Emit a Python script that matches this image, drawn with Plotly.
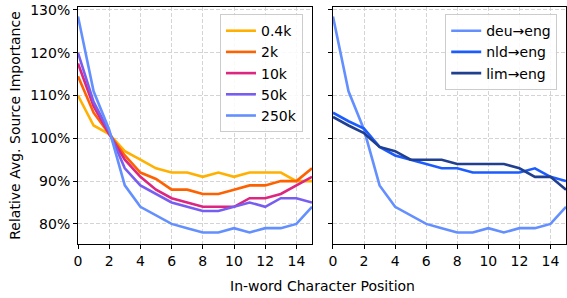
import plotly.graph_objects as go

positions = list(range(16))

vocab_labels = ["0.4k", "2k", "10k", "50k", "250k"]
v_04k = [110, 103, 101, 97, 95, 93, 92, 92, 91, 92, 91, 92, 92, 92, 90, 90]
v_2k = [114.5, 106, 101, 96, 92, 90.5, 88, 88, 87, 87, 88, 89, 89, 90, 90, 93]
v_10k = [117.5, 107.5, 101, 95, 91, 88, 86, 85, 84, 84, 84, 86, 86, 87, 89, 91]
v_50k = [120, 108.5, 101.5, 93, 89, 87, 85, 84, 83, 83, 84, 85, 84, 86, 86, 85]
v_250k = [128.5, 111, 102, 89, 84, 82, 80, 79, 78, 78, 79, 78, 79, 79, 80, 84]

lang_labels = ["deu→eng", "nld→eng", "lim→eng"]
v_deu = v_250k
v_nld = [106, 104, 102.3, 98, 96, 95, 94, 93, 93, 92, 92, 92, 92, 93, 91, 90]
v_lim = [105, 103, 101.2, 98, 97, 95, 95, 95, 94, 94, 94, 94, 93, 91, 91, 88]

y_ticks = [80, 90, 100, 110, 120, 130]
y_tick_labels = ["80%", "90%", "100%", "110%", "120%", "130%"]
x_ticks = [0, 2, 4, 6, 8, 10, 12, 14]

vocab_colors = ["#FFB000", "#FE6100", "#DC267F", "#785EF0", "#648FFF"]
lang_colors = ["#648FFF", "#1C5CFF", "#213F8F"]

fig = go.Figure()
for name, vals, col in zip(vocab_labels, [v_04k, v_2k, v_10k, v_50k, v_250k], vocab_colors):
    fig.add_trace(go.Scatter(x=positions, y=vals, mode="lines", name=name,
                             line=dict(color=col, width=2.6), xaxis="x", yaxis="y",
                             legend="legend"))
for name, vals, col in zip(lang_labels, [v_deu, v_nld, v_lim], lang_colors):
    fig.add_trace(go.Scatter(x=positions, y=vals, mode="lines", name=name,
                             line=dict(color=col, width=2.6), xaxis="x2", yaxis="y2",
                             legend="legend2"))

font = dict(family="DejaVu Sans", size=14, color="#000000")
axis_common = dict(
    showline=True, linecolor="#000000", linewidth=1, mirror=True,
    ticks="outside", ticklen=4, tickcolor="#000000",
    showgrid=True, gridcolor="#d4d4d4", griddash="4px,2px", gridwidth=0.8,
    zeroline=False, tickfont=font,
)
xr = [0, 15]
fig.update_layout(
    width=567, height=298,
    margin=dict(l=78, r=1, t=7, b=54, autoexpand=False),
    paper_bgcolor="white", plot_bgcolor="white",
    font=font,
    showlegend=True,
    xaxis=dict(domain=[0, 0.4795], range=xr, tickvals=x_ticks, **axis_common),
    xaxis2=dict(domain=[0.5225, 1], range=xr, tickvals=x_ticks, anchor="y2", **axis_common),
    yaxis=dict(range=[75.3, 130.7], tickvals=y_ticks, ticktext=y_tick_labels,
               title=dict(text="Relative Avg. Source Importance", font=font, standoff=6), **axis_common),
    yaxis2=dict(range=[75.3, 130.7], tickvals=y_ticks, anchor="x2",
                showticklabels=False, **axis_common),
    legend=dict(x=0.461, y=0.97, xanchor="right", yanchor="top",
                bgcolor="rgba(255,255,255,0.85)", bordercolor="#cccccc", borderwidth=1,
                font=font, itemwidth=30, tracegroupgap=0),
    legend2=dict(x=0.982, y=0.97, xanchor="right", yanchor="top",
                 bgcolor="rgba(255,255,255,0.85)", bordercolor="#cccccc", borderwidth=1,
                 font=font, itemwidth=30, tracegroupgap=0),
    annotations=[dict(text="In-word Character Position", x=0.5, y=-0.178, xref="paper", yref="paper",
                      xanchor="center", yanchor="middle", showarrow=False, font=font)],
)

fig.write_html("out.html", config={"displayModeBar": False},
               post_script="document.body.style.margin='0';document.body.style.padding='0';")
